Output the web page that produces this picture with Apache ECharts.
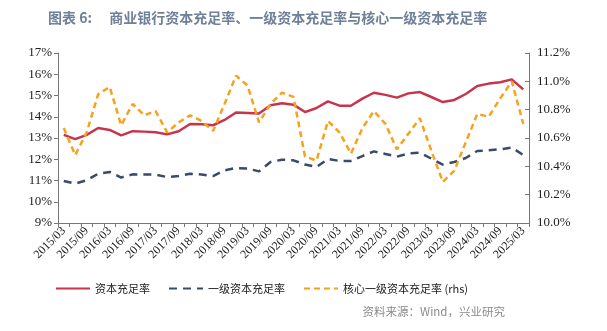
<!DOCTYPE html>
<html>
<head>
<meta charset="utf-8">
<script src="https://cdn.jsdelivr.net/npm/echarts@6/dist/echarts.min.js"></script>
<style>
html,body{margin:0;padding:0;background:#fff;}
#c{width:607px;height:331px;}
</style>
</head>
<body>
<div id="c"></div>
<script>
const categories = [
  '2015/03','2015/06','2015/09','2015/12','2016/03','2016/06','2016/09','2016/12',
  '2017/03','2017/06','2017/09','2017/12','2018/03','2018/06','2018/09','2018/12',
  '2019/03','2019/06','2019/09','2019/12','2020/03','2020/06','2020/09','2020/12',
  '2021/03','2021/06','2021/09','2021/12','2022/03','2022/06','2022/09','2022/12',
  '2023/03','2023/06','2023/09','2023/12','2024/03','2024/06','2024/09','2024/12',
  '2025/03'
];
const capitalRatio = [
  13.15, 12.95, 13.15, 13.47, 13.38, 13.12, 13.32, 13.30,
  13.27, 13.17, 13.32, 13.66, 13.65, 13.60, 13.85, 14.20,
  14.18, 14.15, 14.54, 14.64, 14.57, 14.22, 14.41, 14.72,
  14.52, 14.52, 14.85, 15.13, 15.03, 14.90, 15.10, 15.16,
  14.93, 14.69, 14.79, 15.07, 15.45, 15.56, 15.62, 15.76,
  15.29
];
const tier1Ratio = [
  10.98, 10.85, 11.01, 11.32, 11.40, 11.14, 11.29, 11.28,
  11.28, 11.16, 11.21, 11.32, 11.28, 11.21, 11.48, 11.59,
  11.56, 11.43, 11.87, 11.98, 11.95, 11.75, 11.64, 12.01,
  11.92, 11.92, 12.15, 12.37, 12.25, 12.12, 12.27, 12.31,
  12.03, 11.75, 11.87, 12.06, 12.39, 12.42, 12.47, 12.55,
  12.20
];
const coreTier1Ratio = [
  10.67, 10.48, 10.64, 10.91, 10.96, 10.69, 10.84, 10.76,
  10.79, 10.64, 10.71, 10.76, 10.72, 10.65, 10.84, 11.04,
  10.97, 10.71, 10.84, 10.92, 10.89, 10.47, 10.44, 10.72,
  10.64, 10.49, 10.67, 10.79, 10.70, 10.52, 10.63, 10.74,
  10.51, 10.29, 10.37, 10.57, 10.77, 10.75, 10.88, 11.00,
  10.70
];
const seriesNames = ['资本充足率', '一级资本充足率', '核心一级资本充足率 (rhs)'];
const titleText = '图表 6:\u3000 商业银行资本充足率、一级资本充足率与核心一级资本充足率';
const sourceText = '资料来源：Wind，兴业研究';

const serif = '"Liberation Serif","Times New Roman",serif';
const cjk = '"Noto Sans CJK SC","Noto Sans",sans-serif';
const chart = echarts.init(document.getElementById('c'), null, {renderer:'canvas'});
chart.setOption({
  animation: false,
  backgroundColor: '#fff',
  title: [{
    text: titleText, left: 43, top: 6,
    textStyle: {fontFamily: cjk, fontSize: 14, fontWeight: 'bold', color: '#6f8099'}
  }, {
    text: sourceText, right: 97, top: 301,
    textStyle: {fontFamily: cjk, fontSize: 11.5, fontWeight: 'normal', color: '#8a8a8a'}
  }],
  legend: {
    left: 50, top: 278, itemWidth: 34, itemHeight: 10, itemGap: 18,
    itemStyle: {opacity: 0},
    textStyle: {fontFamily: cjk, fontSize: 11, color: '#222'},
    data: seriesNames
  },
  grid: {left: 58, right: 78, top: 53, bottom: 108},
  xAxis: {
    type: 'category', data: categories, boundaryGap: true,
    axisLine: {lineStyle: {color: '#777', width: 1}},
    axisTick: {show: true, interval: 0, length: 4, inside: false, lineStyle: {color: '#777'}},
    axisLabel: {interval: 1, rotate: 45, fontFamily: serif, fontSize: 12, color: '#222', margin: 6}
  },
  yAxis: [{
    type: 'value', min: 9, max: 17, interval: 1,
    axisLine: {show: true, lineStyle: {color: '#777'}},
    axisTick: {show: true, length: 4, lineStyle: {color: '#777'}},
    splitLine: {show: false},
    axisLabel: {formatter: '{value}%', fontFamily: serif, fontSize: 13, color: '#222', margin: 6}
  }, {
    type: 'value', min: 10, max: 11.2, interval: 0.2, position: 'right',
    axisLine: {show: true, lineStyle: {color: '#777'}},
    axisTick: {show: true, length: 4, inside: true, lineStyle: {color: '#777'}},
    splitLine: {show: false},
    axisLabel: {formatter: v => v.toFixed(1) + '%', fontFamily: serif, fontSize: 13, color: '#222', margin: 8}
  }],
  series: [{
    name: seriesNames[0], type: 'line', data: capitalRatio, yAxisIndex: 0,
    symbol: 'none', color: '#c8354b',
    lineStyle: {color: '#c8354b', width: 2.5}
  }, {
    name: seriesNames[1], type: 'line', data: tier1Ratio, yAxisIndex: 0,
    symbol: 'none', color: '#3a4a6d',
    lineStyle: {color: '#3a4a6d', width: 2.5, type: [8, 6]}
  }, {
    name: seriesNames[2], type: 'line', data: coreTier1Ratio, yAxisIndex: 1,
    symbol: 'none', color: '#f5a21e',
    lineStyle: {color: '#f5a21e', width: 2.5, type: [6, 4]}
  }]
});
</script>
</body>
</html>
